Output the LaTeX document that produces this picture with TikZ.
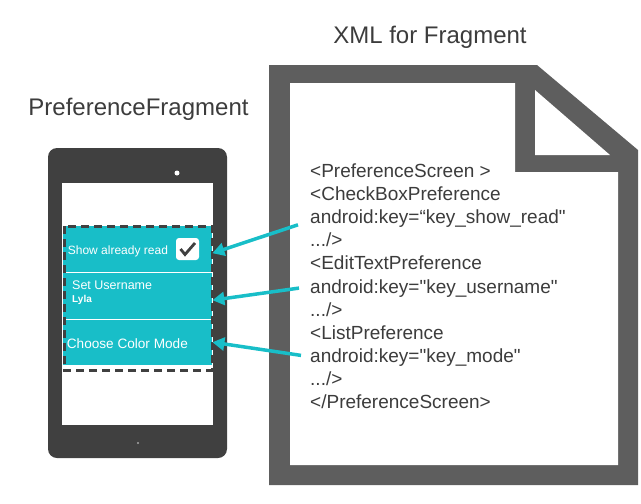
\documentclass[tikz,border=0pt]{standalone}
\usepackage{fontspec}
\setmainfont{Liberation Sans}[Ligatures=TeXOff]
\usetikzlibrary{arrows.meta}
\definecolor{tealc}{RGB}{24,190,200}
\definecolor{phonec}{RGB}{64,64,64}
\definecolor{docc}{RGB}{94,94,94}
\definecolor{txtc}{RGB}{60,60,60}
\begin{document}
\begin{tikzpicture}[x=1pt,y=-1pt,
  xmlline/.style={anchor=base west, inner sep=0pt, font=\fontsize{19}{19}\selectfont, text=txtc},
  titletext/.style={anchor=base, inner sep=0pt, font=\fontsize{24}{24}\selectfont, text=txtc},
  rowbox/.style={fill=tealc, minimum width=149pt, inner sep=0pt, anchor=north west, draw=none},
  rowtext/.style={anchor=base west, inner sep=0pt, text=white},
  link/.style={draw=tealc, line width=3.5pt, -{Triangle[length=12pt,width=13pt]}}
]
\useasboundingbox (0,0) rectangle (641,504);
% titles
\node[titletext] (xmltitle) at (430,43) {XML for Fragment};
\node[titletext] (fragtitle) at (138.5,115) {PreferenceFragment};
% phone
\fill[phonec, rounded corners=9pt] (48,148) rectangle (227,458);
\fill[white] (62,183) rectangle (213,425);
\fill[white] (177,173) circle (2.5pt);
\fill[gray!70] (138,443) circle (1.2pt);
% rows
\node[rowbox, minimum height=46pt] (row1) at (63,226) {};
\node[rowbox, minimum height=47pt] (row2) at (63,272) {};
\node[rowbox, minimum height=46pt] (row3) at (63,319) {};
\draw[white, line width=1.5pt] (row1.south west) -- (row1.south east);
\draw[white, line width=1.5pt] (row2.south west) -- (row2.south east);
\draw[phonec, line width=3pt, dash pattern=on 8pt off 5pt] (64,226) rectangle (212,370);
\node[rowtext, font=\fontsize{12}{12}\selectfont] (r1t) at (67.7,254) {Show already read};
\node[rowtext, font=\fontsize{12.5}{12.5}\selectfont] (r2t) at (72,289) {Set Username};
\node[rowtext, font=\bfseries\fontsize{10}{10}\selectfont] (r2s) at (72,302) {Lyla};
\node[rowtext, font=\fontsize{13.6}{13.6}\selectfont] (r3t) at (66.7,348) {Choose Color Mode};
\fill[white, rounded corners=3pt] (176,238) rectangle (199,260);
\draw[phonec, line width=2.8pt] (180.5,249) -- (185,254.5) -- (195,243);
% document
\fill[docc] (269,65) -- (537,65) -- (638,150) -- (638,485) -- (269,485) -- cycle;
\fill[white] (290,83) -- (515,83) -- (515,172) -- (618,172) -- (618,465) -- (290,465) -- cycle;
\fill[white] (535,90) -- (535,155) -- (610,155) -- cycle;
% xml text
\node[xmlline] (l0) at (310,177.5) {<PreferenceScreen >};
\node[xmlline] (l1) at (310,200.6) {<CheckBoxPreference};
\node[xmlline] (k1) at (310,223.7) {android:key=“key\_show\_read"};
\node[xmlline] (l3) at (310,246.8) {.../>};
\node[xmlline] (l4) at (310,269.9) {<EditTextPreference};
\node[xmlline] (k2) at (310,293.0) {android:key="key\_username"};
\node[xmlline] (l6) at (310,316.1) {.../>};
\node[xmlline] (l7) at (310,339.2) {<ListPreference};
\node[xmlline] (k3) at (310,362.3) {android:key="key\_mode"};
\node[xmlline] (l9) at (310,385.4) {.../>};
\node[xmlline] (l10) at (310,408.5) {</PreferenceScreen>};
% connectors
\draw[link] ([xshift=-12pt,yshift=-6pt]k1.west) -- ([yshift=-4pt]row1.east);
\draw[link] ([xshift=-11pt]k2.west) -- ([yshift=-4.5pt]row2.east);
\draw[link] ([xshift=-9pt,yshift=2pt]k3.west) -- (row3.east);
\end{tikzpicture}
\end{document}
